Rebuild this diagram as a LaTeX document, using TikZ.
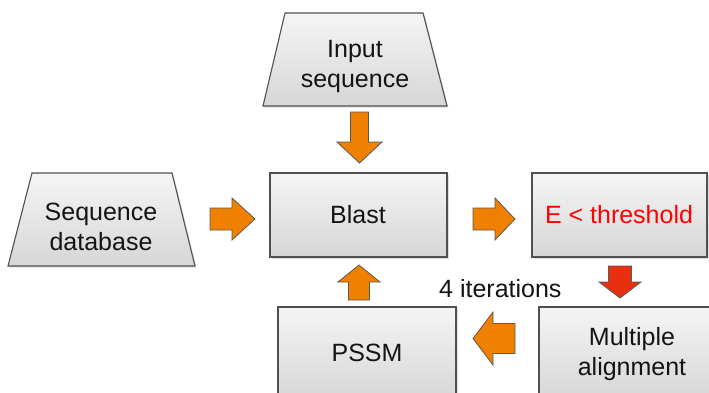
\documentclass[tikz,border=0pt]{standalone}
\usepackage{fontspec}
\setmainfont{Liberation Sans}
\usetikzlibrary{shadows}
\definecolor{arroworange}{RGB}{240,128,0}
\definecolor{arrowred}{RGB}{232,48,16}
\definecolor{boxedge}{RGB}{80,80,80}
\tikzset{
  x=1pt,y=-1pt,
  boxshape/.style={draw=boxedge,line width=1.1pt,top color=gray!8,bottom color=gray!32,
    drop shadow={shadow xshift=1.5pt,shadow yshift=-1.5pt,opacity=0.25}},
  label/.style={font=\fontsize{25}{30}\selectfont,align=center,inner sep=0pt,text=black!92},
  blockarrow/.style={draw=black!65,line width=0.8pt,fill=arroworange,line join=miter},
  redarrow/.style={blockarrow,fill=arrowred}
}
\begin{document}
\begin{tikzpicture}
\useasboundingbox (0,0) rectangle (709,392);
\clip (0,0) rectangle (709,392);
\fill[white] (0,0) rectangle (709,392);
% shapes
\path[boxshape] (285,13) -- (423,13) -- (447,106) -- (263,106) -- cycle;
\path[boxshape] (32,173) -- (172,173) -- (195,266) -- (8,266) -- cycle;
\path[boxshape] (270,173) rectangle (447,257);
\path[boxshape] (532,173) rectangle (707,257);
\path[boxshape] (539,307) rectangle (720,400);
\path[boxshape] (278,307) rectangle (456,400);
% texts
\node[label] (input) at (355,66) {Input\\sequence};
\node[label] (seqdb) at (101,227) {Sequence\\database};
\node[label] (blast) at (358,215) {Blast};
\node[label,text=red] (ethr) at (619,215) {E < threshold};
\node[label] (multi) at (632,354) {Multiple\\alignment};
\node[label] (pssm) at (367,353) {PSSM};
\node[label,anchor=west] (iter) at (439,289) {4 iterations};
% block arrows
\draw[blockarrow] (350.5,112) -- (368.5,112) -- (368.5,142) -- (382,142) -- (359.5,163) -- (337,142) -- (350.5,142) -- cycle;
\draw[blockarrow] (210,208) -- (232,208) -- (232,198) -- (255,219) -- (232,240) -- (232,230) -- (210,230) -- cycle;
\draw[blockarrow] (473,208) -- (495,208) -- (495,198) -- (515,219) -- (495,240) -- (495,230) -- (473,230) -- cycle;
\draw[redarrow] (608.5,266) -- (631.5,266) -- (631.5,282) -- (641,282) -- (620,298) -- (599,282) -- (608.5,282) -- cycle;
\draw[blockarrow] (515,323.5) -- (493,323.5) -- (493,312) -- (473,338.5) -- (493,365) -- (493,353.5) -- (515,353.5) -- cycle;
\draw[blockarrow] (348.5,300) -- (369.5,300) -- (369.5,282) -- (380,282) -- (359,265) -- (338,282) -- (348.5,282) -- cycle;
\end{tikzpicture}
\end{document}
